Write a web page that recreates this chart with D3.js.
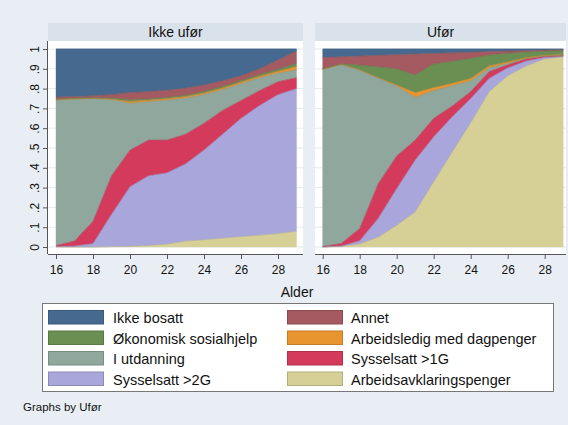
<!DOCTYPE html>
<html>
<head>
<meta charset="utf-8">
<script src="https://cdn.jsdelivr.net/npm/d3@7"></script>
<style>
  html, body { margin: 0; padding: 0; background: #e9eef4; }
  svg { display: block; font-family: "Liberation Sans", Arial, sans-serif; }
</style>
</head>
<body>
<svg id="chart" width="568" height="425"></svg>
<script>
// Ages on the x axis
const ages = [16, 17, 18, 19, 20, 21, 22, 23, 24, 25, 26, 27, 28, 29];

// Status categories, bottom of the stack first
const categories = [
  "Arbeidsavklaringspenger",
  "Sysselsatt >2G",
  "Sysselsatt >1G",
  "I utdanning",
  "Arbeidsledig med dagpenger",
  "Økonomisk sosialhjelp",
  "Annet",
  "Ikke bosatt"
];
const categoryColors = ["#d6d097", "#a8a6da", "#d33a5c", "#8fa79d", "#e9952f", "#6a8f53", "#a45a60", "#466a8f"];

// Legend order (two columns, filled row by row)
const legendOrder = [
  "Ikke bosatt", "Annet",
  "Økonomisk sosialhjelp", "Arbeidsledig med dagpenger",
  "I utdanning", "Sysselsatt >1G",
  "Sysselsatt >2G", "Arbeidsavklaringspenger"
];

const panelTitles = ["Ikke ufør", "Ufør"];
const yTicks = [0, 0.1, 0.2, 0.3, 0.4, 0.5, 0.6, 0.7, 0.8, 0.9, 1];
const xTicks = [16, 18, 20, 22, 24, 26, 28];

// Shares by age — Ikke ufør
const ikkeUforAap     = [0, 0, 0, .002, .004, .008, .015, .030, .037, .045, .053, .060, .068, .080];
const ikkeUforOver2G  = [.003, .005, .018, .163, .301, .352, .360, .390, .453, .525, .597, .655, .702, .720];
const ikkeUforOver1G  = [.005, .025, .112, .195, .185, .180, .165, .150, .135, .120, .090, .075, .065, .055];
const ikkeUforUtd     = [.734, .718, .620, .385, .236, .195, .202, .182, .145, .105, .085, .065, .043, .040];
const ikkeUforLedig   = [.002, .001, .001, .003, .009, .007, .008, .008, .008, .008, .008, .008, .010, .017];
const ikkeUforSosial  = [.004, .003, .003, .005, .010, .006, .006, .007, .008, .008, .008, .008, .010, .016];
const ikkeUforAnnet   = [.010, .008, .010, .017, .035, .037, .036, .036, .032, .029, .024, .029, .047, .062];
const ikkeUforBosatt  = [.242, .240, .236, .230, .220, .215, .208, .197, .182, .160, .135, .100, .055, .010];

// Shares by age — Ufør
const uforAap     = [0, .003, .016, .050, .110, .178, .330, .480, .628, .785, .865, .915, .950, .961];
const uforOver2G  = [.001, .002, .016, .095, .186, .262, .227, .178, .122, .067, .040, .025, .008, .003];
const uforOver1G  = [.002, .013, .062, .175, .164, .100, .093, .054, .035, .034, .015, .010, .005, .003];
const uforUtd     = [.894, .904, .799, .533, .353, .216, .140, .103, .055, .019, .008, .002, .002, .003];
const uforLedig   = [.001, .001, .002, .003, .005, .024, .016, .012, .012, .010, .007, .005, .003, .002];
const uforSosial  = [.002, .002, .024, .054, .082, .089, .119, .111, .101, .055, .043, .028, .022, .020];
const uforAnnet   = [.058, .036, .046, .058, .072, .106, .053, .043, .031, .018, .012, .008, .005, .005];
const uforBosatt  = [.042, .039, .035, .032, .028, .025, .022, .019, .016, .012, .010, .007, .005, .003];

const panelSeries = [
  [ikkeUforAap, ikkeUforOver2G, ikkeUforOver1G, ikkeUforUtd, ikkeUforLedig, ikkeUforSosial, ikkeUforAnnet, ikkeUforBosatt],
  [uforAap, uforOver2G, uforOver1G, uforUtd, uforLedig, uforSosial, uforAnnet, uforBosatt]
];

const svg = d3.select("#chart");
const color = d3.scaleOrdinal().domain(categories).range(categoryColors);

// Graph region
svg.append("rect").attr("x", 0).attr("y", 0).attr("width", 568).attr("height", 425).attr("fill", "#e9eef4");

const panels = [
  { left: 48, right: 303, dataLeft: 56, dataRight: 296.5 },
  { left: 315, right: 566, dataLeft: 322.7, dataRight: 563.2 }
];
const plotTop = 41, plotBottom = 254, stripTop = 23;
const y = d3.scaleLinear().domain([0, 1]).range([247, 49]);

panels.forEach((p, pi) => {
  const g = svg.append("g");
  const x = d3.scaleLinear().domain([16, 29]).range([p.dataLeft, p.dataRight]);

  // title strip
  g.append("rect").attr("x", p.left).attr("y", stripTop).attr("width", p.right - p.left).attr("height", plotTop - stripTop)
    .attr("fill", "#d9e2eb");
  g.append("text").attr("x", (p.left + p.right) / 2).attr("y", 36.7).attr("text-anchor", "middle")
    .attr("font-size", 14).attr("fill", "#111").text(panelTitles[pi]);

  // plot area
  g.append("rect").attr("x", p.left).attr("y", plotTop).attr("width", p.right - p.left).attr("height", plotBottom - plotTop)
    .attr("fill", "#ffffff");

  // gridlines
  g.append("g").selectAll("line").data(yTicks).join("line")
    .attr("x1", p.left).attr("x2", p.right)
    .attr("y1", d => y(d)).attr("y2", d => y(d))
    .attr("stroke", "#e3e9ef").attr("stroke-width", 1);

  // stacked areas
  const rows = ages.map((a, i) => {
    const r = { age: a };
    categories.forEach((c, k) => { r[c] = panelSeries[pi][k][i]; });
    return r;
  });
  const stacked = d3.stack().keys(categories)(rows);
  const area = d3.area().x(d => x(d.data.age)).y0(d => y(d[0])).y1(d => y(d[1]));
  const topLine = d3.line().x(d => x(d.data.age)).y(d => y(d[1]));

  g.append("g").selectAll("path.area").data(stacked).join("path")
    .attr("class", "area")
    .attr("d", area)
    .attr("fill", d => color(d.key))
    .attr("stroke", d => color(d.key))
    .attr("stroke-width", 0.4);
  g.append("g").selectAll("path.edge").data(stacked).join("path")
    .attr("class", "edge")
    .attr("d", topLine)
    .attr("fill", "none")
    .attr("stroke", d => d3.color(color(d.key)).darker(0.45))
    .attr("stroke-width", 0.7)
    .attr("stroke-opacity", 0.7);

  // x axis
  const xAxis = g.append("g").attr("transform", `translate(0,${plotBottom})`)
    .call(d3.axisBottom(x).tickValues(xTicks).tickSize(5).tickPadding(4).tickSizeOuter(0));
  xAxis.select(".domain").attr("d", `M${p.left},0.5H${p.right}`).attr("stroke", "#555");
  xAxis.selectAll(".tick line").attr("stroke", "#555");
  xAxis.selectAll(".tick text").attr("font-size", 12).attr("font-family", "Liberation Sans, Arial, sans-serif")
    .attr("fill", "#111").attr("dy", "0").attr("y", 19.5);

  // y axis on the first panel only
  if (pi === 0) {
    const yAxis = g.append("g").attr("transform", `translate(${p.left},0)`)
      .call(d3.axisLeft(y).tickValues(yTicks).tickSize(5).tickSizeOuter(0)
        .tickFormat(d => d === 0 ? "0" : d === 1 ? "1" : d3.format(".1f")(d).replace(/^0/, "")));
    yAxis.select(".domain").attr("d", `M-0.5,${plotTop}V${plotBottom}`).attr("stroke", "#555");
    yAxis.selectAll(".tick line").attr("stroke", "#555");
    yAxis.selectAll(".tick text")
      .attr("x", null).attr("dy", null)
      .attr("transform", "translate(-9,0) rotate(-90)")
      .attr("text-anchor", "middle")
      .attr("y", 0)
      .attr("font-size", 12).attr("font-family", "Liberation Sans, Arial, sans-serif").attr("fill", "#111");
  }
});

// x axis title
svg.append("text").attr("x", 297).attr("y", 296.5).attr("text-anchor", "middle")
  .attr("font-size", 14).attr("fill", "#111").text("Alder");

// legend
const legend = svg.append("g");
legend.append("rect").attr("x", 42.5).attr("y", 303.5).attr("width", 511).attr("height", 88)
  .attr("fill", "#ffffff").attr("stroke", "#777").attr("stroke-width", 1);
const colX = [48, 287], textX = [113, 351], rowBase = [323, 343.5, 364, 384.5];
legend.selectAll("g.item").data(legendOrder).join("g").attr("class", "item")
  .each(function (name, i) {
    const col = i % 2, row = Math.floor(i / 2);
    const it = d3.select(this);
    it.append("rect").attr("x", colX[col] + 0.5).attr("y", rowBase[row] - 12.5)
      .attr("width", 55).attr("height", 13.5)
      .attr("fill", color(name)).attr("stroke", d3.color(color(name)).darker(0.5)).attr("stroke-width", 1);
    it.append("text").attr("x", textX[col]).attr("y", rowBase[row])
      .attr("font-size", 14.5).attr("fill", "#111").text(name);
  });

svg.append("text").attr("x", 23).attr("y", 411).attr("font-size", 11.5).attr("fill", "#111").text("Graphs by Ufør");
</script>
</body>
</html>
